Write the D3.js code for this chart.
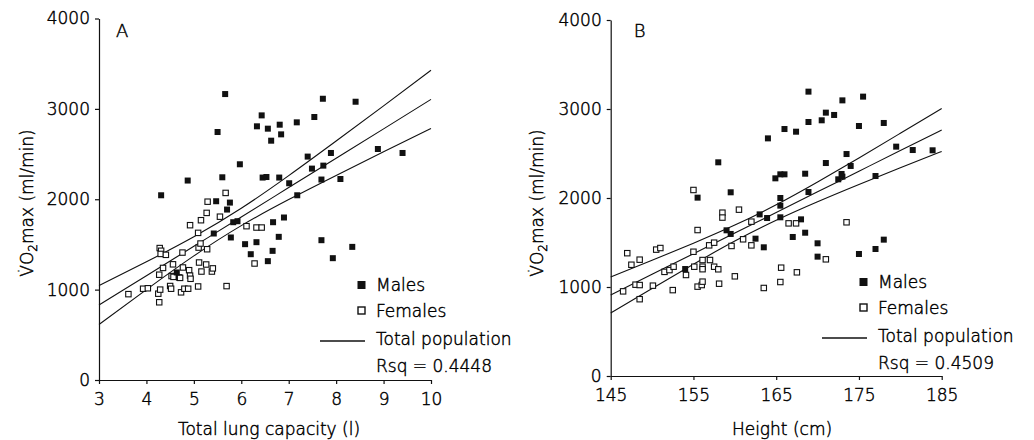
<!DOCTYPE html>
<html>
<head>
<meta charset="utf-8">
<script src="https://cdn.jsdelivr.net/npm/d3@7"></script>
<style>
  body { margin: 0; background: #fff; }
  text {
    font-family: 'DejaVu Sans', sans-serif;
    font-weight: 200;
    fill: #000;
    stroke: #000;
    stroke-width: 0.45px;
  }
</style>
</head>
<body>
<div id="chart"></div>
<script>
// Panel A: total lung capacity (l) vs VO2max (ml/min)
const lungMales = [
  [5.66, 3164], [5.50, 2744], [6.43, 2928], [6.33, 2807], [6.56, 2781], [6.81, 2825],
  [6.63, 2648], [6.84, 2718], [7.17, 2851], [7.54, 2910], [7.72, 3112], [8.41, 3079],
  [7.40, 2472], [7.89, 2512], [8.88, 2556], [9.40, 2512], [7.49, 2339], [7.73, 2372],
  [7.69, 2218], [8.09, 2224], [7.01, 2177], [7.18, 2044], [5.97, 2387], [5.60, 2243],
  [6.45, 2240], [6.53, 2246], [6.80, 2240], [4.87, 2207], [4.31, 2044], [5.47, 1978],
  [5.76, 1963], [5.70, 1886], [5.83, 1746], [5.92, 1757], [5.42, 1621], [5.78, 1577],
  [6.08, 1503], [6.32, 1525], [6.20, 1392], [6.66, 1429], [6.56, 1315], [6.67, 1746],
  [6.90, 1798], [6.79, 1584], [7.69, 1547], [8.34, 1473], [7.93, 1348], [4.64, 1190]
]
const lungFemales = [
  [3.62, 950], [3.93, 1010], [4.03, 1015], [4.25, 955], [4.27, 860], [4.29, 1000],
  [4.27, 1165], [4.35, 1240], [4.28, 1460], [4.31, 1430], [4.30, 1395], [4.41, 1385],
  [4.50, 1040], [4.52, 1010], [4.53, 1150], [4.56, 1280], [4.57, 1141], [4.69, 1135],
  [4.71, 1130], [4.73, 970], [4.76, 1410], [4.77, 1245], [4.80, 1010], [4.88, 1010],
  [4.90, 1215], [4.92, 1155], [4.93, 1120], [4.92, 1713], [5.09, 1035], [5.09, 1628],
  [5.11, 1300], [5.10, 1465], [5.14, 1510], [5.16, 1200], [5.15, 1768], [5.26, 1278],
  [5.28, 1447], [5.27, 1849], [5.29, 1973], [5.38, 1200], [5.40, 1235], [5.55, 1807],
  [5.67, 2070], [5.69, 1039], [6.11, 1702], [6.28, 1289], [6.32, 1687], [6.43, 1687]
]
const lungFitX = [3, 4, 5, 6, 7, 8, 9, 10]
const lungFit = [829, 1154, 1479, 1804, 2129, 2454, 2779, 3105]
const lungUpper = [1044, 1308, 1585, 1900, 2261, 2644, 3033, 3427]
const lungLower = [614, 1000, 1373, 1708, 1997, 2264, 2525, 2783]
const lungTicks = [3, 4, 5, 6, 7, 8, 9, 10]

// Panel B: height (cm) vs VO2max (ml/min)
const heightMales = [
  [168.9, 3195], [173.0, 3097], [175.5, 3139], [171.0, 2959], [172.0, 2933], [170.5, 2873],
  [168.9, 2854], [175.0, 2809], [178.0, 2843], [166.0, 2775], [167.4, 2745], [164.0, 2670],
  [158.0, 2401], [173.5, 2494], [174.0, 2360], [171.0, 2393], [179.5, 2577], [181.5, 2539],
  [183.9, 2536], [168.5, 2273], [164.9, 2221], [165.5, 2266], [166.0, 2266], [172.9, 2270],
  [172.5, 2210], [173.0, 2240], [177.0, 2247], [168.9, 2067], [159.5, 2064], [155.5, 2004],
  [165.5, 2000], [165.5, 1914], [163.0, 1816], [163.9, 1775], [165.5, 1783], [168.0, 1760],
  [159.0, 1637], [159.5, 1596], [162.5, 1543], [163.5, 1446], [167.0, 1562], [168.5, 1610],
  [170.0, 1491], [170.0, 1341], [175.0, 1371], [177.0, 1427], [178.0, 1532], [154.0, 1202]
]
const heightFemales = [
  [146.5, 951], [147.0, 1380], [147.5, 1250], [148.0, 1026], [148.5, 1022], [148.5, 1307],
  [148.5, 863], [150.1, 1015], [150.5, 1420], [151.0, 1438], [151.5, 1170], [152.1, 1190],
  [152.6, 1228], [152.5, 965], [154.1, 1135], [155.0, 1396], [155.0, 2090], [155.5, 1640],
  [155.1, 1228], [156.1, 1303], [156.1, 1228], [156.1, 1200], [155.5, 1004], [156.0, 1022],
  [156.1, 1060], [157.0, 1303], [156.9, 1468], [157.5, 1498], [157.5, 1228], [158.0, 1199],
  [158.1, 1037], [158.5, 1835], [158.5, 1780], [159.6, 1461], [160.0, 1120], [160.5, 1869],
  [161.0, 1536], [162.0, 1468], [162.0, 1734], [163.5, 989], [165.6, 1217], [165.5, 1056],
  [166.5, 1715], [167.4, 1715], [167.5, 1165], [171.0, 1311], [173.5, 1727]
]
const heightFitX = [145, 150, 155, 160, 165, 170, 175, 180, 185]
const heightFit = [910, 1142, 1374, 1606, 1837, 2069, 2301, 2533, 2764]
const heightUpper = [1113, 1300, 1492, 1696, 1924, 2180, 2450, 2727, 3005]
const heightLower = [707, 984, 1256, 1516, 1750, 1958, 2152, 2339, 2523]
const heightTicks = [145, 155, 165, 175, 185]

const yTicks = [0, 1000, 2000, 3000, 4000]

const width = 1034
const height = 440

const svg = d3
  .select('#chart')
  .append('svg')
  .attr('width', width)
  .attr('height', height)

function drawPanel(opts) {
  const g = svg.append('g')

  const xPositionScale = d3.scaleLinear().domain(opts.xDomain).range(opts.xRange)
  const yPositionScale = d3.scaleLinear().domain([0, 4000]).range(opts.yRange)

  const xAxis = d3
    .axisBottom(xPositionScale)
    .tickValues(opts.xTicks)
    .tickFormat(d => String(d))
    .tickSize(4)
    .tickSizeOuter(0)
    .tickPadding(9)
  g.append('g')
    .attr('class', 'axis x-axis')
    .attr('transform', 'translate(0,' + opts.yRange[0] + ')')
    .call(xAxis)

  const yAxis = d3
    .axisLeft(yPositionScale)
    .tickValues(yTicks)
    .tickFormat(d => String(d))
    .tickSize(4)
    .tickSizeOuter(0)
    .tickPadding(5)
  g.append('g')
    .attr('class', 'axis y-axis')
    .attr('transform', 'translate(' + opts.xRange[0] + ',0)')
    .call(yAxis)

  g.selectAll('.axis text')
    .attr('font-size', 17)
    .attr('font-family', "'DejaVu Sans', sans-serif")
  g.selectAll('.axis path, .axis line').attr('stroke', '#111').attr('stroke-width', 1.2)

  // regression line and confidence band
  const line = d3
    .line()
    .x(d => xPositionScale(d[0]))
    .y(d => yPositionScale(d[1]))
    .curve(d3.curveNatural)
  ;[opts.upper, opts.fit, opts.lower].forEach(vals => {
    g.append('path')
      .datum(opts.fitX.map((x, i) => [x, vals[i]]))
      .attr('fill', 'none')
      .attr('stroke', '#111')
      .attr('stroke-width', 1.1)
      .attr('d', line)
  })

  g.selectAll('.female')
    .data(opts.females)
    .enter()
    .append('rect')
    .attr('class', 'female')
    .attr('x', d => xPositionScale(d[0]) - 2.7)
    .attr('y', d => yPositionScale(d[1]) - 2.7)
    .attr('width', 5.4)
    .attr('height', 5.4)
    .attr('fill', '#fff')
    .attr('stroke', '#111')
    .attr('stroke-width', 1.1)

  g.selectAll('.male')
    .data(opts.males)
    .enter()
    .append('rect')
    .attr('class', 'male')
    .attr('x', d => xPositionScale(d[0]) - 3)
    .attr('y', d => yPositionScale(d[1]) - 3)
    .attr('width', 6)
    .attr('height', 6)
    .attr('fill', '#111')

  // panel letter
  g.append('text')
    .attr('x', opts.xRange[0] + opts.letterDx)
    .attr('y', 37)
    .attr('font-size', 18)
    .text(opts.letter)

  // axis titles
  g.append('text')
    .attr('x', opts.titleX)
    .attr('y', 435)
    .attr('text-anchor', 'middle')
    .attr('font-size', 17)
    .text(opts.xTitle)

  const yTitle = g
    .append('text')
    .attr('transform', 'translate(' + opts.yTitleX + ',203) rotate(-90)')
    .attr('text-anchor', 'middle')
    .attr('font-size', 17)
  yTitle.append('tspan').text('V\u0307O')
  yTitle.append('tspan').attr('font-size', 12).attr('dy', 4).text('2')
  yTitle.append('tspan').attr('dy', -4).text('max (ml/min)')

  // legend
  const lx = opts.legendX
  const ly = opts.legendY
  g.append('rect')
    .attr('x', lx - 18.5)
    .attr('y', ly - 10)
    .attr('width', 8)
    .attr('height', 8)
    .attr('fill', '#111')
  g.append('text').attr('x', lx).attr('y', ly).attr('font-size', 17).text('Males')
  g.append('rect')
    .attr('x', lx - 18)
    .attr('y', ly + 16)
    .attr('width', 7)
    .attr('height', 7)
    .attr('fill', '#fff')
    .attr('stroke', '#111')
    .attr('stroke-width', 1.4)
  g.append('text').attr('x', lx).attr('y', ly + 26).attr('font-size', 17).text('Females')
  g.append('line')
    .attr('x1', lx - 56)
    .attr('x2', lx - 11)
    .attr('y1', ly + 50)
    .attr('y2', ly + 50)
    .attr('stroke', '#111')
    .attr('stroke-width', 1.3)
  g.append('text').attr('x', lx).attr('y', ly + 54).attr('font-size', 17).text('Total population')
  g.append('text').attr('x', lx).attr('y', ly + 81).attr('font-size', 17).text(opts.rsq)
}

drawPanel({
  letter: 'A',
  letterDx: 17,
  xDomain: [3, 10],
  xRange: [99, 431],
  yRange: [380, 18.5],
  xTicks: lungTicks,
  males: lungMales,
  females: lungFemales,
  fitX: lungFitX,
  fit: lungFit,
  upper: lungUpper,
  lower: lungLower,
  xTitle: 'Total lung capacity (l)',
  titleX: 269,
  yTitleX: 33,
  legendX: 376,
  legendY: 291,
  rsq: 'Rsq = 0.4448'
})

drawPanel({
  letter: 'B',
  letterDx: 23,
  xDomain: [145, 185],
  xRange: [610.7, 941.7],
  yRange: [376, 20],
  xTicks: heightTicks,
  males: heightMales,
  females: heightFemales,
  fitX: heightFitX,
  fit: heightFit,
  upper: heightUpper,
  lower: heightLower,
  xTitle: 'Height (cm)',
  titleX: 782,
  yTitleX: 543,
  legendX: 878,
  legendY: 288,
  rsq: 'Rsq = 0.4509'
})
</script>
</body>
</html>
